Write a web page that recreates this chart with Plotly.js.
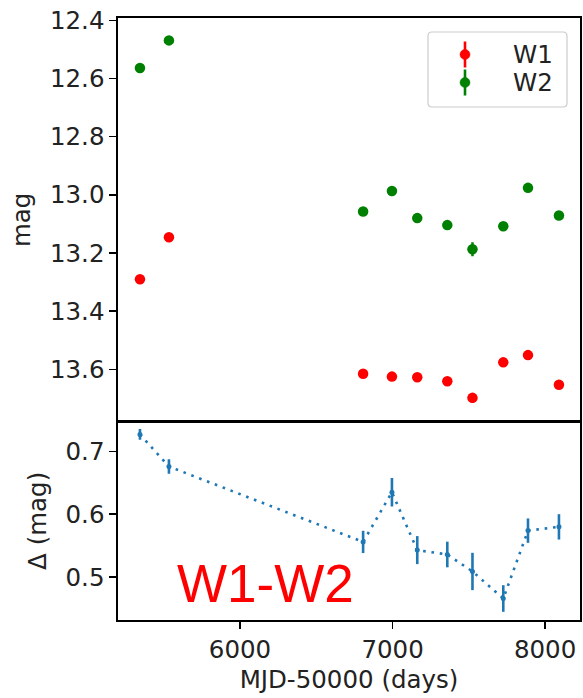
<!DOCTYPE html>
<html>
<head>
<meta charset="utf-8">
<script src="https://cdn.plot.ly/plotly-3.0.1.min.js"></script>
<style>
  html, body { margin: 0; padding: 0; background: #fff; }
  #chart { width: 583px; height: 698px; }
</style>
</head>
<body>
<div id="chart"></div>
<script>
// WISE light curve: epochs (MJD-50000)
const mjd = [5344, 5534, 6807, 6996, 7162, 7359, 7524, 7726, 7888, 8091];

// W1 and W2 magnitudes with uncertainties
const w1Mag = [13.290, 13.146, 13.615, 13.625, 13.627, 13.641, 13.698, 13.576, 13.551, 13.653];
const w1Err = [0.010, 0.010, 0.012, 0.014, 0.014, 0.013, 0.016, 0.013, 0.012, 0.012];
const w2Mag = [12.564, 12.469, 13.057, 12.987, 13.080, 13.104, 13.187, 13.108, 12.976, 13.071];
const w2Err = [0.008, 0.008, 0.012, 0.016, 0.015, 0.015, 0.024, 0.014, 0.013, 0.014];

// W1-W2 colour and its uncertainty
const colour = [0.727, 0.676, 0.556, 0.635, 0.543, 0.536, 0.509, 0.466, 0.574, 0.580];
const colourErr = [0.0085, 0.0116, 0.0177, 0.0226, 0.0223, 0.0204, 0.0297, 0.0212, 0.0194, 0.0202];

const magTicks = [12.4, 12.6, 12.8, 13.0, 13.2, 13.4, 13.6];
const deltaTicks = [0.5, 0.6, 0.7];
const dayTicks = [6000, 7000, 8000];

const FONT = 'DejaVu Sans, sans-serif';
const TXT = '#222222';
const FS = 24.5;
const BLUE = '#1f77b4';

// Pixel helpers for the decorative legend (plot area 118..580 x 18..620)
const L = 118, R = 580, T = 18, B = 620;
const px = v => (v - L) / (R - L);
const py = v => (B - v) / (B - T);

const traces = [
  {
    x: mjd, y: w1Mag, xaxis: 'x2', yaxis: 'y', type: 'scatter', mode: 'markers', name: 'W1',
    marker: { color: '#ff0000', size: 10.5 },
    error_y: { type: 'data', array: w1Err, visible: true, color: '#ff0000', thickness: 2.5, width: 0 },
    showlegend: false
  },
  {
    x: mjd, y: w2Mag, xaxis: 'x2', yaxis: 'y', type: 'scatter', mode: 'markers', name: 'W2',
    marker: { color: '#008000', size: 10.5 },
    error_y: { type: 'data', array: w2Err, visible: true, color: '#008000', thickness: 2.5, width: 0 },
    showlegend: false
  },
  {
    x: mjd, y: colour, xaxis: 'x', yaxis: 'y2', type: 'scatter', mode: 'lines+markers', name: 'W1-W2',
    line: { color: BLUE, width: 2.6, dash: '2.6px,5.8px' },
    marker: { color: BLUE, size: 5 },
    error_y: { type: 'data', array: colourErr, visible: true, color: BLUE, thickness: 2.6, width: 0 },
    showlegend: false
  }
];

const axisCommon = {
  showline: true, mirror: true, linecolor: '#000', linewidth: 1.6,
  ticks: 'outside', ticklen: 7, tickwidth: 1.6, tickcolor: '#000',
  showgrid: false, zeroline: false,
  tickfont: { family: FONT, size: FS, color: TXT }
};

// Decorative legend box with rounded corners
const bx0 = px(428), bx1 = px(567), by0 = py(107), by1 = py(32);
const rx = 4 / (R - L), ry = 4 / (B - T);
const boxPath = `M ${bx0 + rx},${by0} L ${bx1 - rx},${by0} Q ${bx1},${by0} ${bx1},${by0 + ry} ` +
  `L ${bx1},${by1 - ry} Q ${bx1},${by1} ${bx1 - rx},${by1} L ${bx0 + rx},${by1} ` +
  `Q ${bx0},${by1} ${bx0},${by1 - ry} L ${bx0},${by0 + ry} Q ${bx0},${by0} ${bx0 + rx},${by0} Z`;

const legendItems = [
  { label: 'W1', color: '#ff0000', cy: 54.5 },
  { label: 'W2', color: '#008000', cy: 82.5 }
];

const shapes = [
  { type: 'path', xref: 'paper', yref: 'paper', path: boxPath,
    fillcolor: 'rgba(255,255,255,0.8)', line: { color: '#cccccc', width: 1.2 } }
];
const annotations = [];
legendItems.forEach(it => {
  shapes.push({
    type: 'line', xref: 'paper', yref: 'paper', xsizemode: 'pixel', ysizemode: 'pixel',
    xanchor: px(465), yanchor: py(it.cy), x0: 0, x1: 0, y0: -13, y1: 13,
    line: { color: it.color, width: 2.6 }
  });
  shapes.push({
    type: 'circle', xref: 'paper', yref: 'paper', xsizemode: 'pixel', ysizemode: 'pixel',
    xanchor: px(465), yanchor: py(it.cy), x0: -5, x1: 5, y0: -5, y1: 5,
    fillcolor: it.color, line: { color: it.color, width: 0.5 }
  });
  annotations.push({
    xref: 'paper', yref: 'paper', x: px(511), y: py(it.cy), xanchor: 'left', yanchor: 'middle',
    text: it.label, showarrow: false, font: { family: FONT, size: FS, color: TXT }
  });
});

// Large red label in the lower panel
annotations.push({
  xref: 'paper', yref: 'paper', x: px(175), y: py(583), xanchor: 'left', yanchor: 'middle',
  text: 'W1-W2', showarrow: false,
  font: { family: 'Liberation Sans, Arial, sans-serif', size: 53, color: '#ff0000' }
});

const layout = {
  width: 583, height: 698,
  margin: { l: L, r: 583 - R, t: T, b: 698 - B, pad: 0 },
  paper_bgcolor: '#fff', plot_bgcolor: '#fff',
  showlegend: false,
  xaxis: Object.assign({}, axisCommon, {
    anchor: 'y2', domain: [0, 1], range: [5200, 8229],
    tickvals: dayTicks, ticktext: dayTicks.map(String),
    title: { text: 'MJD-50000 (days)', font: { family: FONT, size: FS, color: TXT }, standoff: 8 }
  }),
  xaxis2: Object.assign({}, axisCommon, {
    anchor: 'y', matches: 'x', domain: [0, 1], range: [5200, 8229],
    ticks: '', showticklabels: false
  }),
  yaxis: Object.assign({}, axisCommon, {
    anchor: 'x2', domain: [0.3294, 1], range: [13.780, 12.392],
    tickvals: magTicks, ticktext: magTicks.map(v => v.toFixed(1)),
    title: { text: 'mag', font: { family: FONT, size: FS, color: TXT }, standoff: 12 }
  }),
  yaxis2: Object.assign({}, axisCommon, {
    anchor: 'x', domain: [0, 0.3294], range: [0.4318, 0.7473],
    tickvals: deltaTicks, ticktext: deltaTicks.map(v => v.toFixed(1)),
    title: { text: 'Δ (mag)', font: { family: FONT, size: FS, color: TXT }, standoff: 12 }
  }),
  shapes: shapes,
  annotations: annotations
};

Plotly.newPlot('chart', traces, layout, { displayModeBar: false, staticPlot: true });
</script>
</body>
</html>
